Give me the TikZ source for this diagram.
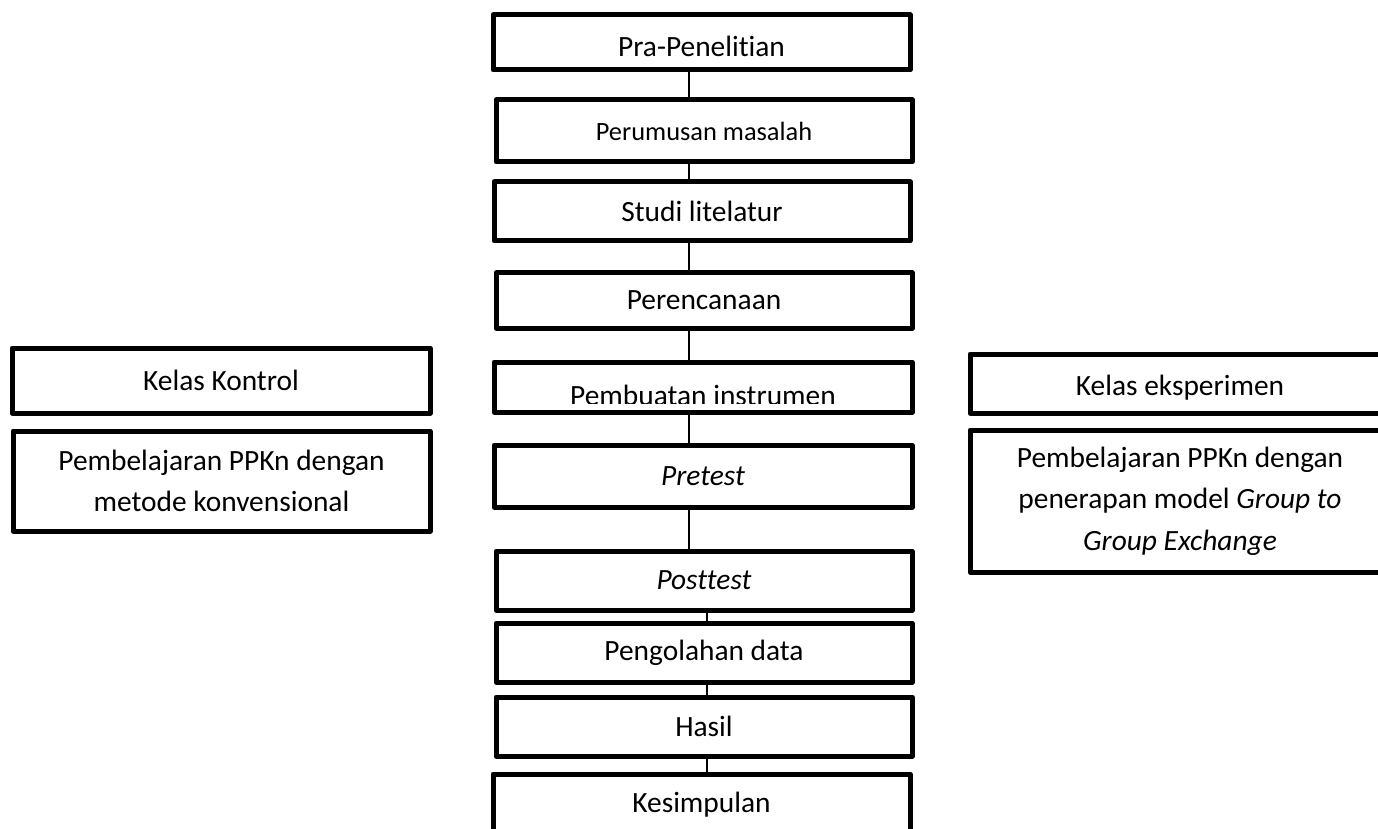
\documentclass[tikz,border=0pt]{standalone}
\usepackage{fontspec}
\setmainfont{Carlito}[Ligatures=NoCommon]
\usetikzlibrary{positioning}

\begin{document}
\begin{tikzpicture}[x=0.5pt,y=-0.5pt,
  stage/.style={draw, line width=2.5pt, line join=round, inner sep=0pt,
    align=center, font=\fontsize{14.7}{20.8}\selectfont},
  link/.style={line width=0.7pt}]
\useasboundingbox (0,0) rectangle (1378,829);

% main column
\node[stage, minimum width=208.5pt, minimum height=27.5pt, text height=14pt] (pra) at (701.5,42.5) {Pra-Penelitian};
\node[stage, minimum width=208pt, minimum height=31pt, font=\fontsize{13.2}{16}\selectfont] (perumusan) at (704,131) {Perumusan masalah};
\node[stage, minimum width=208pt, minimum height=29.5pt] (studi) at (702,211.5) {Studi litelatur};
\node[stage, minimum width=208pt, minimum height=27.5pt] (perencanaan) at (704,300.5) {Perencanaan};
\node[stage, minimum width=209pt, minimum height=25pt,
  path picture={
    \clip (path picture bounding box.north west) rectangle ([yshift=4.5pt]path picture bounding box.south east);
    \node[anchor=base, inner sep=0pt, font=\fontsize{14.7}{17}\selectfont] (pembuatantext) at ([yshift=3.5pt]path picture bounding box.south) {Pembuatan instrumen};
  }] (pembuatan) at (703,387) {};
\node[stage, minimum width=209pt, minimum height=31pt] (pretest) at (703,476) {\textit{Pretest}};
\node[stage, minimum width=208pt, minimum height=29.5pt] (posttest) at (704,580.5) {\textit{Posttest}};
\node[stage, minimum width=208pt, minimum height=29.5pt] (pengolahan) at (704,652.5) {Pengolahan data};
\node[stage, minimum width=208pt, minimum height=29.5pt] (hasil) at (704,726.5) {Hasil};
\node[stage, minimum width=208.5pt, minimum height=30.5pt] (kesimpulan) at (701.5,804.5) {Kesimpulan};

% kelas kontrol
\node[stage, minimum width=209pt, minimum height=32.5pt] (kontrol) at (221,380.5) {Kelas Kontrol};
\node[stage, minimum width=208.5pt, minimum height=50pt] (konvensional) at (221.5,481) {Pembelajaran PPKn dengan\\metode konvensional};

% kelas eksperimen
\node[stage, minimum width=210pt, minimum height=29.5pt, text height=14pt] (eksperimen) at (1180,383.5) {Kelas eksperimen};
\node[stage, minimum width=210pt, minimum height=71pt] (gge) at (1180,501) {Pembelajaran PPKn dengan\\penerapan model \textit{Group to}\\\textit{Group Exchange}};

% connectors
\coordinate (upper) at (689,0);
\coordinate (lower) at (707,0);
\draw[link] (pra.south -| upper) -- (perumusan.north -| upper);
\draw[link] (perumusan.south -| upper) -- (studi.north -| upper);
\draw[link] (studi.south -| upper) -- (perencanaan.north -| upper);
\draw[link] (perencanaan.south -| upper) -- (pembuatan.north -| upper);
\draw[link] (pembuatan.south -| upper) -- (pretest.north -| upper);
\draw[link] (pretest.south -| upper) -- (posttest.north -| upper);
\draw[link] (posttest.south -| lower) -- (pengolahan.north -| lower);
\draw[link] (pengolahan.south -| lower) -- (hasil.north -| lower);
\draw[link] (hasil.south -| lower) -- (kesimpulan.north -| lower);
\end{tikzpicture}
\end{document}
